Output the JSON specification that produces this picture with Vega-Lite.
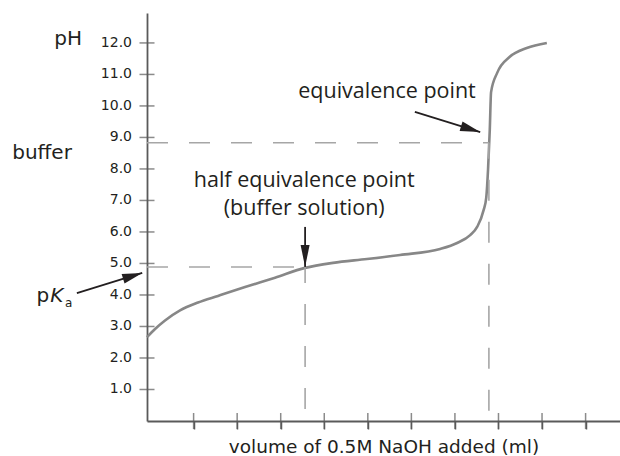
{
  "$schema": "https://vega.github.io/schema/vega-lite/v6.json",
  "width": 473,
  "height": 408,
  "autosize": {"type": "none"},
  "padding": {"left": 147, "top": 13, "right": 0, "bottom": 35},
  "background": "white",
  "config": {"view": {"stroke": null}},
  "datasets": {
    "curve": [
      {"x": -0.07, "y": 2.66},
      {"x": 0.115, "y": 2.92},
      {"x": 0.344, "y": 3.19},
      {"x": 0.689, "y": 3.51},
      {"x": 1.102, "y": 3.76},
      {"x": 1.561, "y": 3.97},
      {"x": 2.181, "y": 4.25},
      {"x": 2.870, "y": 4.55},
      {"x": 3.559, "y": 4.86},
      {"x": 4.20, "y": 5.02},
      {"x": 4.98, "y": 5.14},
      {"x": 5.74, "y": 5.27},
      {"x": 6.66, "y": 5.46},
      {"x": 7.05, "y": 5.65},
      {"x": 7.35, "y": 5.90},
      {"x": 7.51, "y": 6.16},
      {"x": 7.66, "y": 6.70},
      {"x": 7.72, "y": 7.10},
      {"x": 7.76, "y": 7.97},
      {"x": 7.80, "y": 9.24},
      {"x": 7.83, "y": 10.44},
      {"x": 7.97, "y": 11.05},
      {"x": 8.26, "y": 11.56},
      {"x": 8.65, "y": 11.84},
      {"x": 9.11, "y": 12.0}
    ],
    "guides": [
      {"x": -0.07, "y": 8.83, "x2": 7.78, "y2": 8.83},
      {"x": -0.07, "y": 4.89, "x2": 3.56, "y2": 4.89}
    ],
    "vguides": [
      {"x": 7.78, "y": 8.83, "x2": 7.78, "y2": 0},
      {"x": 3.56, "y": 4.89, "x2": 3.56, "y2": 0}
    ],
    "arrows": [
      {"x": 3.56, "y": 6.16, "x2": 3.56, "y2": 4.89},
      {"x": 6.08, "y": 9.81, "x2": 7.58, "y2": 9.17},
      {"x": -1.68, "y": 4.06, "x2": -0.18, "y2": 4.70}
    ],
    "headHalf": [{"x": 3.56, "y": 4.89}],
    "headEq": [{"x": 7.58, "y": 9.17}],
    "headPka": [{"x": -0.18, "y": 4.70}],
    "yTicks": [
      {"x": -0.07, "y": 1}, {"x": -0.07, "y": 2}, {"x": -0.07, "y": 3}, {"x": -0.07, "y": 4},
      {"x": -0.07, "y": 5}, {"x": -0.07, "y": 6}, {"x": -0.07, "y": 7}, {"x": -0.07, "y": 8},
      {"x": -0.07, "y": 9}, {"x": -0.07, "y": 10}, {"x": -0.07, "y": 11}, {"x": -0.07, "y": 12}
    ],
    "xTicks": [
      {"x": 1, "y": 0}, {"x": 2, "y": 0}, {"x": 3, "y": 0}, {"x": 4, "y": 0}, {"x": 5, "y": 0},
      {"x": 6, "y": 0}, {"x": 7, "y": 0}, {"x": 8, "y": 0}, {"x": 9, "y": 0}, {"x": 10, "y": 0}
    ],
    "sideLabels": [
      {"text": "pH", "x": -1.88, "y": 11.94},
      {"text": "buffer", "x": -2.48, "y": 8.32},
      {"text": "p", "x": -2.46, "y": 3.78}
    ],
    "italicLabels": [{"text": "K", "x": -2.14, "y": 3.78}],
    "subLabels": [{"text": "a", "x": -1.87, "y": 3.62}],
    "notes": [
      {"text": "equivalence point", "x": 5.44, "y": 10.25},
      {"text": "half equivalence point", "x": 3.54, "y": 7.43},
      {"text": "(buffer solution)", "x": 3.54, "y": 6.54}
    ]
  },
  "encoding": {
    "x": {
      "field": "x", "type": "quantitative",
      "scale": {"domain": [-0.07, 10.79], "nice": false, "zero": false},
      "axis": {
        "values": [1, 2, 3, 4, 5, 6, 7, 8, 9, 10],
        "labels": false, "grid": false,
        "title": "volume of 0.5M NaOH added (ml)",
        "titleFont": "DejaVu Sans", "titleFontSize": 18.5, "titleFontWeight": "normal",
        "titleColor": "#231f20", "titlePadding": 8,
        "domainColor": "#5a5a5a", "domainWidth": 1.8,
        "ticks": true, "tickColor": "#5a5a5a", "tickWidth": 1.5, "tickSize": 8
      }
    },
    "y": {
      "field": "y", "type": "quantitative",
      "scale": {"domain": [0, 12.95], "nice": false, "zero": false},
      "axis": {
        "values": [1, 2, 3, 4, 5, 6, 7, 8, 9, 10, 11, 12],
        "labels": false, "ticks": false, "title": null, "grid": false,
        "domainColor": "#5a5a5a", "domainWidth": 1.8
      }
    }
  },
  "layer": [
    {
      "data": {"name": "curve"},
      "mark": {"type": "line", "color": "#878787", "strokeWidth": 2.6, "interpolate": "monotone"}
    },
    {
      "data": {"name": "guides"},
      "mark": {"type": "rule", "color": "#a6a6a6", "strokeWidth": 1.6, "strokeDash": [21, 21]},
      "encoding": {"x2": {"field": "x2"}, "y2": {"field": "y2"}}
    },
    {
      "data": {"name": "vguides"},
      "mark": {"type": "rule", "color": "#a6a6a6", "strokeWidth": 1.6, "strokeDash": [21, 21], "strokeDashOffset": 5},
      "encoding": {"x2": {"field": "x2"}, "y2": {"field": "y2"}}
    },
    {
      "data": {"name": "yTicks"},
      "mark": {"type": "tick", "orient": "horizontal", "size": 15, "thickness": 1.5, "color": "#5a5a5a"}
    },
    {
      "data": {"name": "yTicks"},
      "mark": {"type": "text", "font": "DejaVu Sans", "fontSize": 14, "color": "#231f20", "align": "right", "baseline": "middle", "dx": -15},
      "encoding": {"text": {"field": "y", "type": "quantitative", "format": ".1f"}}
    },
    {
      "data": {"name": "xTicks"},
      "mark": {"type": "tick", "orient": "vertical", "size": 16, "thickness": 1.5, "color": "#5a5a5a"}
    },
    {
      "data": {"name": "arrows"},
      "mark": {"type": "rule", "color": "#231f20", "strokeWidth": 1.8},
      "encoding": {"x2": {"field": "x2"}, "y2": {"field": "y2"}}
    },
    {
      "data": {"name": "headHalf"},
      "mark": {"type": "point", "shape": "M0,0L0.45,2.2L-0.45,2.2Z", "size": 400, "angle": 180, "filled": true, "color": "#231f20", "opacity": 1, "strokeWidth": 0}
    },
    {
      "data": {"name": "headEq"},
      "mark": {"type": "point", "shape": "M0,0L0.5,2L-0.5,2Z", "size": 400, "angle": 107, "filled": true, "color": "#231f20", "opacity": 1, "strokeWidth": 0}
    },
    {
      "data": {"name": "headPka"},
      "mark": {"type": "point", "shape": "M0,0L0.5,2L-0.5,2Z", "size": 400, "angle": 73, "filled": true, "color": "#231f20", "opacity": 1, "strokeWidth": 0}
    },
    {
      "data": {"name": "sideLabels"},
      "mark": {"type": "text", "font": "DejaVu Sans", "fontSize": 20, "color": "#231f20", "align": "center", "baseline": "alphabetic"},
      "encoding": {"text": {"field": "text"}}
    },
    {
      "data": {"name": "italicLabels"},
      "mark": {"type": "text", "font": "DejaVu Sans", "fontSize": 20, "fontStyle": "italic", "color": "#231f20", "align": "center", "baseline": "alphabetic"},
      "encoding": {"text": {"field": "text"}}
    },
    {
      "data": {"name": "subLabels"},
      "mark": {"type": "text", "font": "DejaVu Sans", "fontSize": 12, "color": "#231f20", "align": "center", "baseline": "alphabetic"},
      "encoding": {"text": {"field": "text"}}
    },
    {
      "data": {"name": "notes"},
      "mark": {"type": "text", "font": "Open Sans", "fontSize": 21.5, "color": "#231f20", "align": "center", "baseline": "alphabetic"},
      "encoding": {"text": {"field": "text"}}
    }
  ]
}
